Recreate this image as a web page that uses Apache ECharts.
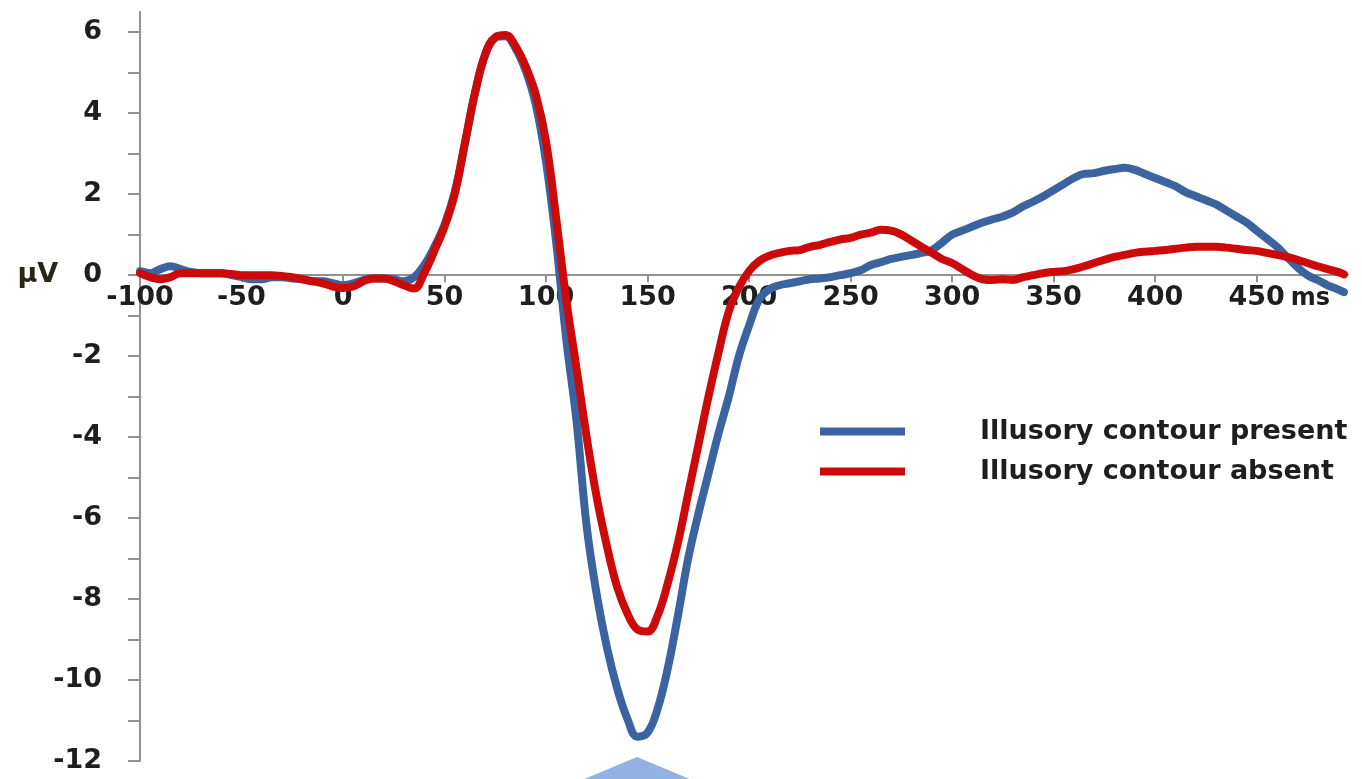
<!DOCTYPE html>
<html>
<head>
<meta charset="utf-8">
<script src="https://cdn.jsdelivr.net/npm/echarts@6/dist/echarts.min.js"></script>
<style>
html,body{margin:0;padding:0;background:#fff;}
#chart{width:1362px;height:779px;}
</style>
</head>
<body>
<div id="chart"></div>
<script>
// time points (ms)
var times = [-100,-95,-90,-85,-80,-75,-70,-65,-60,-55,-50,-45,-40,-35,-30,-25,-20,-15,-10,-5,
  0,5,10,15,20,25,30,35,40,45,50,55,60,65,70,75,80,85,90,95,
  100,105,110,115,120,125,130,135,140,145,150,155,160,165,170,175,180,185,190,195,
  200,205,210,215,220,225,230,235,240,245,250,255,260,265,270,275,280,285,290,295,
  300,305,310,315,320,325,330,335,340,345,350,355,360,365,370,375,380,385,390,395,
  400,405,410,415,420,425,430,435,440,445,450,455,460,465,470,475,480,485,490,493];

// Illusory contour present (blue), µV
var presentValues = [0.1,0.05,0.15,0.22,0.15,0.08,0.05,0.05,0.05,0.0,-0.05,-0.1,-0.1,-0.05,-0.05,-0.08,-0.1,-0.15,-0.15,-0.2,
  -0.25,-0.2,-0.12,-0.08,-0.08,-0.1,-0.15,-0.05,0.25,0.7,1.25,2.05,3.25,4.5,5.45,5.86,5.9,5.6,5.05,4.2,
  2.8,0.8,-1.6,-3.6,-6.2,-7.9,-9.2,-10.2,-10.95,-11.4,-11.3,-10.7,-9.7,-8.4,-7.0,-5.9,-4.9,-3.9,-3.0,-2.0,
  -1.25,-0.6,-0.35,-0.25,-0.2,-0.15,-0.1,-0.08,-0.05,0.0,0.05,0.12,0.25,0.32,0.4,0.45,0.5,0.55,0.62,0.8,
  1.0,1.1,1.2,1.3,1.38,1.45,1.55,1.7,1.82,1.95,2.1,2.25,2.4,2.5,2.52,2.58,2.62,2.65,2.6,2.5,
  2.4,2.3,2.2,2.05,1.95,1.85,1.75,1.6,1.45,1.3,1.1,0.9,0.7,0.45,0.2,0.0,-0.12,-0.25,-0.35,-0.42];

// Illusory contour absent (red), µV
var absentValues = [0.05,-0.05,-0.1,-0.05,0.05,0.05,0.05,0.05,0.05,0.03,0.0,0.0,0.0,0.0,-0.02,-0.05,-0.1,-0.15,-0.2,-0.28,
  -0.32,-0.28,-0.15,-0.08,-0.08,-0.15,-0.25,-0.33,0.05,0.6,1.2,2.0,3.25,4.5,5.45,5.88,5.93,5.65,5.15,4.45,
  3.3,1.4,-0.62,-2.3,-4.0,-5.5,-6.7,-7.7,-8.35,-8.75,-8.8,-8.4,-7.6,-6.6,-5.4,-4.2,-3.0,-1.9,-0.9,-0.3,
  0.1,0.35,0.48,0.55,0.6,0.62,0.7,0.75,0.82,0.88,0.92,1.0,1.05,1.12,1.1,1.0,0.85,0.7,0.55,0.4,
  0.3,0.15,0.0,-0.1,-0.12,-0.1,-0.12,-0.05,0.0,0.05,0.08,0.1,0.15,0.22,0.3,0.38,0.45,0.5,0.55,0.58,
  0.6,0.62,0.65,0.68,0.7,0.7,0.7,0.68,0.65,0.62,0.6,0.55,0.5,0.45,0.38,0.3,0.22,0.15,0.08,0.02];

var seriesNames = ['Illusory contour present', 'Illusory contour absent'];
var xTickValues = [-50,0,50,100,150,200,250,300,350,400,450];
var xLabelValues = [-100,-50,0,50,100,150,200,250,300,350,400,450];
var yTickValues = [-12,-11,-10,-9,-8,-7,-6,-5,-4,-3,-2,-1,0,1,2,3,4,5,6];
var yLabelValues = [-12,-10,-8,-6,-4,-2,0,2,4,6];

function pairs(vals){ return times.map(function(t,i){ return [t, vals[i]]; }); }

var FONT = '"DejaVu Sans", sans-serif';
var AXIS_COLOR = '#929292';
var TEXT_COLOR = '#1e1e1e';

var W = 1362, H = 779;
var GRID = {left:140, right:14, top:12, bottom:18};
var Y_MIN = -12, Y_MAX = 6.5;
// place the x axis on the zero line of the y axis
var plotH = H - GRID.top - GRID.bottom;
var zeroY = GRID.top + plotH * (Y_MAX / (Y_MAX - Y_MIN));
var xAxisOffset = -((H - GRID.bottom) - zeroY);

var chart = echarts.init(document.getElementById('chart'), null, {renderer:'canvas'});
chart.setOption({
  animation:false,
  backgroundColor:'#ffffff',
  grid:{left:GRID.left, right:GRID.right, top:GRID.top, bottom:GRID.bottom, containLabel:false},
  legend:{
    orient:'vertical', left:815, top:413, itemGap:13,
    itemWidth:85, itemHeight:8, icon:'rect',
    data: seriesNames,
    textStyle:{fontFamily:FONT, fontWeight:'bold', fontSize:27, color:TEXT_COLOR, padding:[0,0,0,70]}
  },
  xAxis:{
    type:'value', min:-100, max:495, interval:50, position:'bottom', offset:xAxisOffset,
    name:'ms', nameLocation:'end', nameGap:-60,
    nameTextStyle:{fontFamily:FONT, fontWeight:'bold', fontSize:24, color:TEXT_COLOR, align:'left', verticalAlign:'top', padding:[12,0,0,0]},
    axisLine:{show:true, onZero:false, lineStyle:{color:AXIS_COLOR, width:2}},
    axisTick:{show:true, length:7, customValues:xTickValues, lineStyle:{color:AXIS_COLOR, width:2}},
    axisLabel:{customValues:xLabelValues, margin:9, fontFamily:FONT, fontWeight:'bold', fontSize:27, color:TEXT_COLOR,
      formatter:function(v){ return (v > 450) ? '' : String(v); }},
    splitLine:{show:false}
  },
  yAxis:{
    type:'value', min:Y_MIN, max:Y_MAX, interval:1,
    axisLine:{show:true, onZero:false, lineStyle:{color:AXIS_COLOR, width:2}},
    axisTick:{show:true, length:12, customValues:yTickValues, lineStyle:{color:AXIS_COLOR, width:2}},
    axisLabel:{customValues:yLabelValues, margin:38, fontFamily:FONT, fontWeight:'bold', fontSize:27, color:TEXT_COLOR,
      formatter:function(v){
        if (v % 2 !== 0) return '';
        if (v === 0) return '{u|µV}{n|0}';
        return String(v);
      },
      rich:{
        u:{fontFamily:FONT, fontWeight:'bold', fontSize:27, color:'#2a2418', padding:[0,25,0,0]},
        n:{fontFamily:FONT, fontWeight:'bold', fontSize:27, color:TEXT_COLOR}
      }
    },
    splitLine:{show:false}
  },
  graphic:[{
    type:'polygon', silent:true, z:-1,
    shape:{points:[[637,757],[716,790],[558,790]]},
    style:{fill:'#93b1e2'}
  }],
  series:[
    {name:seriesNames[0], type:'line', data:pairs(presentValues), showSymbol:false, smooth:0.4,
     color:'#3b63a0', lineStyle:{width:8, color:'#3b63a0', cap:'round', join:'round'}, z:2},
    {name:seriesNames[1], type:'line', data:pairs(absentValues), showSymbol:false, smooth:0.4,
     color:'#cc0a0a', lineStyle:{width:8, color:'#cc0a0a', cap:'round', join:'round'}, z:3}
  ]
});
</script>
</body>
</html>
